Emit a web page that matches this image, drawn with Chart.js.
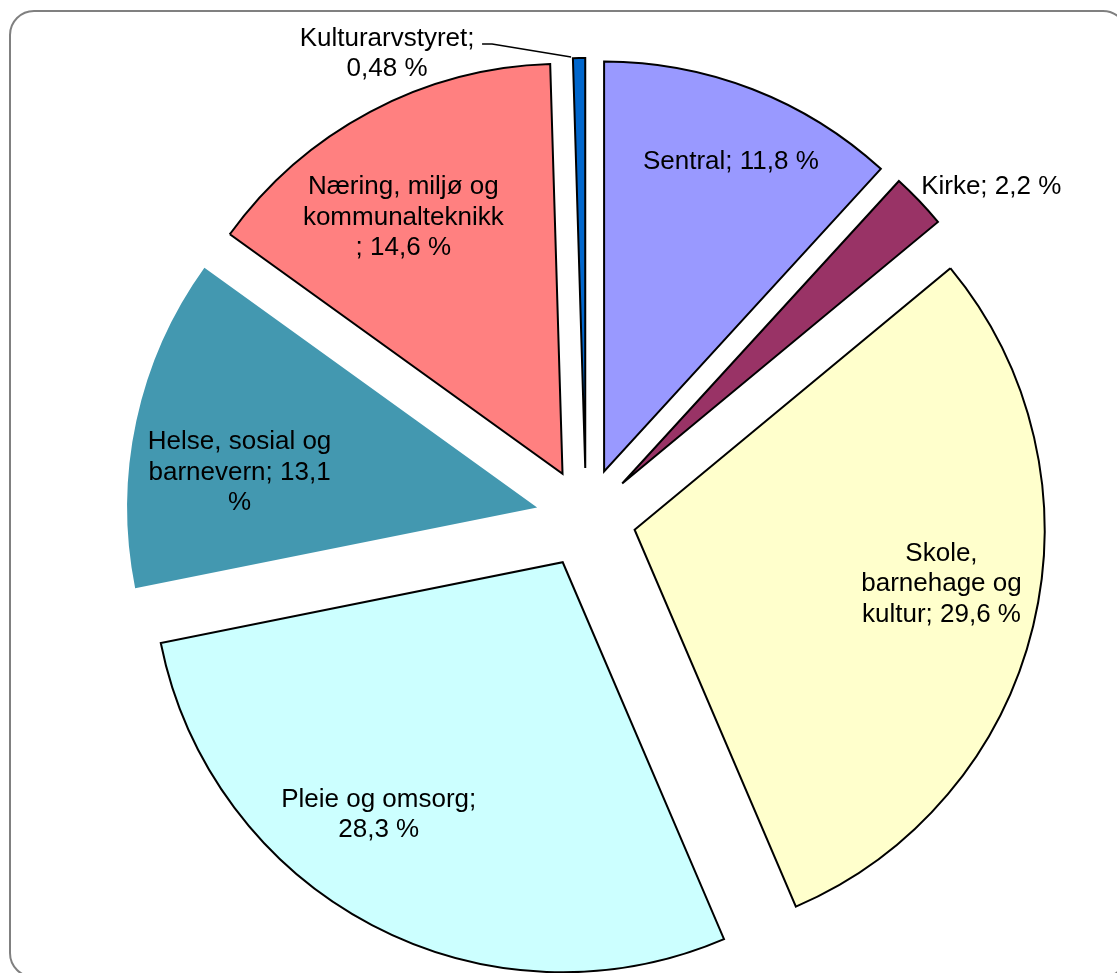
<!DOCTYPE html>
<html>
<head>
<meta charset="utf-8">
<script src="https://cdn.jsdelivr.net/npm/chart.js@4/dist/chart.umd.min.js"></script>
<style>
  html, body { margin: 0; padding: 0; background: #fff; overflow: hidden; }
  #wrap { width: 1117px; height: 973px; }
</style>
</head>
<body>
<div id="wrap"><canvas id="chartCanvas" width="1117" height="973"></canvas></div>
<script>
// data (percent of budget)
const categories = ["Sentral", "Kirke", "Skole, barnehage og kultur", "Pleie og omsorg",
                    "Helse, sosial og barnevern", "Næring, miljø og kommunalteknikk", "Kulturarvstyret"];
const shares = [11.8, 2.2, 29.6, 28.3, 13.1, 14.6, 0.48];
// data labels as wrapped in the picture
const labelLines = [
  ["Sentral; 11,8 %"],
  ["Kirke; 2,2 %"],
  ["Skole,", "barnehage og", "kultur; 29,6 %"],
  ["Pleie og omsorg;", "28,3 %"],
  ["Helse, sosial og", "barnevern; 13,1", "%"],
  ["Næring, miljø og", "kommunalteknikk", "; 14,6 %"],
  ["Kulturarvstyret;", "0,48 %"]
];
const colors = ["#9999FF", "#993366", "#FFFFCC", "#CCFFFF", "#4398B0", "#FF8080", "#0066CC"];
const borders = [2, 2, 2, 2, 0, 2, 2];

const EXPLODE = 50;     // distance each slice is pulled out
const FONT = '26px "Liberation Sans", Arial, sans-serif';
const LINE_H = 30.5;

// label placement: fraction of radius along mid angle + small nudge
const labelLayout = [
  { r: 0.8,  dx: 8,    dy: -4 },
  { r: 1.0,  dx: 2,    dy: -14, align: "left" },
  { r: 0.76, dx: 4,    dy: -19 },
  { r: 0.76, dx: -39,  dy: -23 },
  { r: 0.76, dx: 7,    dy: 31 },
  { r: 0.76, dx: -13,  dy: 19 },
  { r: 1.0,  dx: -192, dy: -4, leader: true }
];

// rounded frame round the chart
const framePlugin = {
  id: "frame",
  beforeDraw(chart) {
    const ctx = chart.ctx;
    ctx.save();
    ctx.strokeStyle = "#808080";
    ctx.lineWidth = 2;
    ctx.beginPath();
    ctx.roundRect(10, 11, 1117, 966, 24);
    ctx.stroke();
    ctx.restore();
  }
};

// draw each arc shifted outwards (exploded pie)
const explodePlugin = {
  id: "explode",
  beforeDatasetDraw(chart, args) {
    const ctx = chart.ctx;
    args.meta.data.forEach(arc => {
      const mid = (arc.startAngle + arc.endAngle) / 2;
      ctx.save();
      ctx.translate(Math.cos(mid) * EXPLODE, Math.sin(mid) * EXPLODE);
      arc.draw(ctx, chart.chartArea);
      ctx.restore();
    });
    return false;
  }
};

const labelPlugin = {
  id: "sliceLabels",
  afterDatasetsDraw(chart) {
    const ctx = chart.ctx;
    const meta = chart.getDatasetMeta(0);
    ctx.save();
    ctx.font = FONT;
    ctx.fillStyle = "#000";
    ctx.textBaseline = "middle";
    meta.data.forEach((arc, i) => {
      const mid = (arc.startAngle + arc.endAngle) / 2;
      const cx = arc.x + Math.cos(mid) * EXPLODE;
      const cy = arc.y + Math.sin(mid) * EXPLODE;
      const lay = labelLayout[i];
      const ox = cx + Math.cos(mid) * arc.outerRadius * lay.r;
      const oy = cy + Math.sin(mid) * arc.outerRadius * lay.r;
      const x = ox + lay.dx;
      const y = oy + lay.dy;
      const lines = labelLines[i];
      ctx.textAlign = lay.align || "center";
      const top = y - (lines.length - 1) * LINE_H / 2;
      lines.forEach((t, k) => ctx.fillText(t, x, top + k * LINE_H));
      if (lay.leader) {
        ctx.strokeStyle = "#000";
        ctx.lineWidth = 1.5;
        ctx.beginPath();
        ctx.moveTo(ox - 8, oy - 1);
        ctx.lineTo(ox - 87, oy - 14);
        ctx.lineTo(ox - 97, oy - 14);
        ctx.stroke();
      }
    });
    ctx.restore();
  }
};

const ctx = document.getElementById("chartCanvas").getContext("2d");
new Chart(ctx, {
  type: "pie",
  data: {
    labels: categories,
    datasets: [{
      data: shares,
      backgroundColor: colors,
      borderColor: "#000",
      borderWidth: borders,
      borderJoinStyle: "miter"
    }]
  },
  options: {
    responsive: false,
    animation: false,
    events: [],
    radius: 410,
    layout: { padding: { left: 55, top: 63, right: 0, bottom: 0 } },
    plugins: {
      legend: { display: false },
      tooltip: { enabled: false }
    }
  },
  plugins: [framePlugin, explodePlugin, labelPlugin]
});
</script>
</body>
</html>
